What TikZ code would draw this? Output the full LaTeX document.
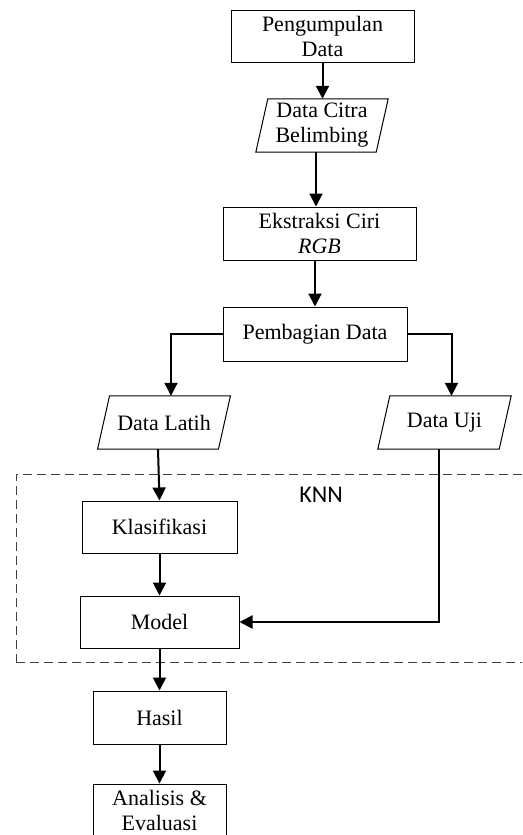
\documentclass[tikz,border=0pt]{standalone}
\usepackage{fontspec}
\setmainfont{Liberation Serif}
\newfontfamily\knnfont{Carlito}
\usetikzlibrary{arrows.meta,calc}
\begin{document}
\begin{tikzpicture}[x=1pt,y=-1pt,
  every node/.style={font=\fontsize{22}{25}\selectfont, inner sep=0pt, align=center},
  procbox/.style={draw, line width=1pt, rectangle},
  iobox/.style={rectangle},
  ioshape/.style={draw, line width=1pt},
  arr/.style={line width=2pt, -{Triangle[length=13pt,width=13pt]}},
  knnframe/.style={draw=black!75, line width=1pt, dash pattern=on 9pt off 5pt}
]
\clip (0,0) rectangle (522,835);
\fill[white] (0,0) rectangle (522,835);

% nodes
\node[procbox, minimum width=183pt, minimum height=52pt] (peng) at (322.5,36) {Pengumpulan\\Data};
\node[iobox, minimum width=120pt, minimum height=53pt] (citra) at (322,125.5) {Data Citra\\Belimbing};
\node[procbox, minimum width=193pt, minimum height=53pt] (ekst) at (319.5,233.5) {Ekstraksi Ciri\\\textit{RGB}};
\node[procbox, minimum width=184pt, minimum height=54pt] (pemb) at (315,334) {Pembagian Data};
\node[iobox, minimum width=120.5pt, minimum height=53pt] (latih) at (164,422.5) {Data Latih};
\node[iobox, minimum width=121pt, minimum height=53pt] (uji) at (444.5,422.5) {Data Uji};
\node[knnframe, rectangle, minimum width=516pt, minimum height=188pt] (knnbox) at (274,568) {};
\node[font=\knnfont\fontsize{24}{28}\selectfont] (knn) at (321,495) {KNN};
\node[procbox, minimum width=155pt, minimum height=52pt] (klas) at (159.5,527) {Klasifikasi};
\node[procbox, minimum width=159pt, minimum height=52pt] (model) at (159.5,622) {Model};
\node[procbox, minimum width=133pt, minimum height=53pt] (hasil) at (159.5,717.5) {Hasil};
\node[procbox, minimum width=133pt, minimum height=53pt] (anal) at (159.5,810.5) {Analisis \&\\Evaluasi};

% parallelogram outlines
\foreach \n in {citra,latih,uji}{
  \draw[ioshape] ([xshift=6pt]\n.north west) -- ([xshift=6pt]\n.north east)
     -- ([xshift=-6pt]\n.south east) -- ([xshift=-6pt]\n.south west) -- cycle;
}

% connectors
\draw[arr] (peng.south) -- (peng.south |- citra.north);
\draw[arr] ([xshift=-6pt]citra.south) -- ([xshift=-6pt]citra.south |- ekst.north);
\draw[arr] (pemb.north |- ekst.south) -- (pemb.north);
\draw[arr] (pemb.west) -| ([xshift=7pt]latih.north);
\draw[arr] (pemb.east) -| ([xshift=7pt]uji.north);
\draw[arr] ([xshift=-6pt]latih.south) -- (klas.north);
\draw[arr] (klas.south) -- (model.north);
\draw[arr] ([xshift=-6pt]uji.south) |- (model.east);
\draw[arr] (model.south) -- (hasil.north);
\draw[arr] (hasil.south) -- (anal.north);
\end{tikzpicture}
\end{document}
